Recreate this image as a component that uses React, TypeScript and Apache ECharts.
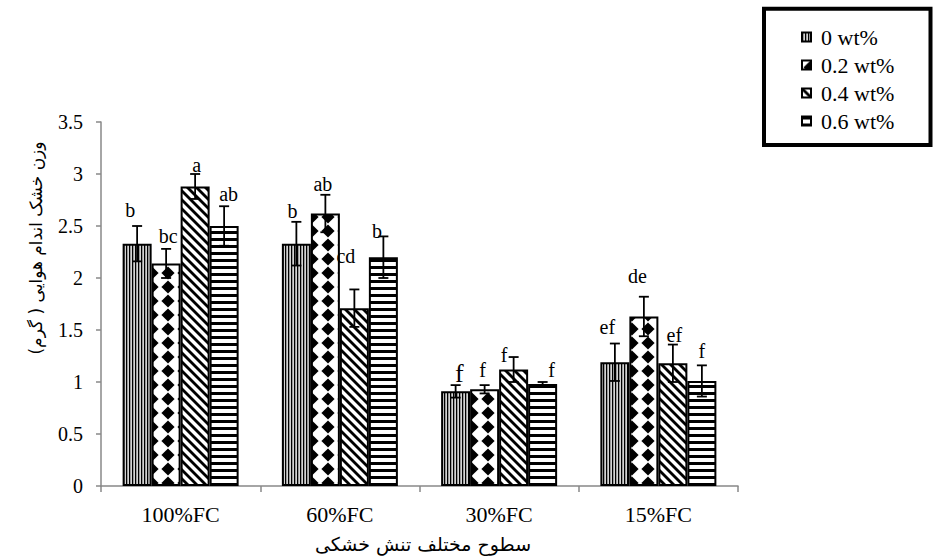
import React, { useEffect, useRef } from "react";
import * as echarts from "echarts";

const categories = ["100%FC", "60%FC", "30%FC", "15%FC"];
const seriesNames = ["0 wt%", "0.2 wt%", "0.4 wt%", "0.6 wt%"];
const yTicks = [0, 3.5, 0.5]; // min, max, interval

const values0 = [2.33, 2.33, 0.91, 1.19];
const values1 = [2.14, 2.62, 0.93, 1.63];
const values2 = [2.88, 1.71, 1.12, 1.18];
const values3 = [2.5, 2.2, 0.98, 1.01];

const errors0 = [0.17, 0.21, 0.06, 0.18];
const errors1 = [0.14, 0.18, 0.04, 0.19];
const errors2 = [0.12, 0.18, 0.12, 0.18];
const errors3 = [0.19, 0.2, 0.02, 0.15];

const letters0 = ["b", "b", "f", "ef"];
const letters1 = ["bc", "ab", "f", "de"];
const letters2 = ["a", "cd", "f", "ef"];
const letters3 = ["ab", "b", "f", "f"];

// label placement relative to top of error bar (pixels)
const labelDx0 = [-7, -4, 3.7, -7.5];
const labelDy0 = [-16, -10.7, -12, -16.4];
const labelDx1 = [2, -2.5, -2, -6.5];
const labelDy1 = [-13, -11, -15, -20.4];
const labelDx2 = [1.5, -8.5, -9.5, 1.5];
const labelDy2 = [-9.3, -33, -1.7, -10];
const labelDx3 = [4.5, -6.5, 9, 0];
const labelDy3 = [-12.7, -5.7, -12, -14.7];

const yAxisTitle = "وزن خشک اندام هوایی ( گرم)";
const xAxisTitle = "سطوح مختلف تنش خشکی";

const BAR_W = 29;
const SERIF = "'Liberation Serif', 'Times New Roman', serif";
const PERSIAN = "'DejaVu Sans', sans-serif";

function makePattern(w: number, h: number, draw: (ctx: CanvasRenderingContext2D) => void) {
  const c = document.createElement("canvas");
  c.width = w;
  c.height = h;
  const ctx = c.getContext("2d")!;
  ctx.fillStyle = "#ffffff";
  ctx.fillRect(0, 0, w, h);
  draw(ctx);
  return { image: c.toDataURL(), repeat: "repeat", imageWidth: w, imageHeight: h };
}

export default function App() {
  const ref = useRef<HTMLDivElement>(null);
  useEffect(() => {
    if (!ref.current) return;
    const chart = echarts.init(ref.current, null, { renderer: "svg" });

    const pVertical = makePattern(3, 3, (ctx) => {
      ctx.fillStyle = "#000";
      ctx.fillRect(0, 0, 1, 3);
      ctx.fillStyle = "#9a9a9a";
      ctx.fillRect(1, 0, 1, 3);
      ctx.fillStyle = "#d4d4d4";
      ctx.fillRect(2, 0, 1, 3);
    });
    const pDiamond = makePattern(16, 14, (ctx) => {
      ctx.fillStyle = "#000";
      ctx.beginPath();
      ctx.moveTo(8, 0.6);
      ctx.lineTo(14.6, 7);
      ctx.lineTo(8, 13.4);
      ctx.lineTo(1.4, 7);
      ctx.closePath();
      ctx.fill();
    });
    const pDiagonal = makePattern(9, 9, (ctx) => {
      ctx.strokeStyle = "#000";
      ctx.lineWidth = 2.8;
      for (const o of [-9, 0, 9]) {
        ctx.beginPath();
        ctx.moveTo(o - 2, -2);
        ctx.lineTo(o + 11, 11);
        ctx.stroke();
      }
    });
    const pHorizontal = makePattern(4, 7, (ctx) => {
      ctx.fillStyle = "#000";
      ctx.fillRect(0, 0, 4, 3);
    });
    const patterns = [pVertical, pDiamond, pDiagonal, pHorizontal];

    const allValues = [values0, values1, values2, values3];
    const allErrors = [errors0, errors1, errors2, errors3];
    const allLetters = [letters0, letters1, letters2, letters3];
    const allDx = [labelDx0, labelDx1, labelDx2, labelDx3];
    const allDy = [labelDy0, labelDy1, labelDy2, labelDy3];

    const barSeries = seriesNames.map((name, s) => ({
      type: "bar",
      name,
      data: allValues[s],
      barWidth: BAR_W,
      barGap: "0%",
      itemStyle: { color: patterns[s], borderColor: "#000", borderWidth: 2 },
      z: 2,
    }));

    const errSeries = seriesNames.map((name, s) => ({
      type: "custom",
      name: name + "-err",
      data: allValues[s].map((v, i) => [i, v, allErrors[s][i]]),
      z: 5,
      clip: false,
      silent: true,
      renderItem: (params: any, api: any) => {
        const ci = api.value(0);
        const v = api.value(1);
        const e = api.value(2);
        const top = api.coord([ci, v + e]);
        const bot = api.coord([ci, v - e]);
        const cx = top[0] + (s - 1.5) * BAR_W;
        const yT = top[1];
        const yB = bot[1];
        const idx = params.dataIndex;
        const big = s === 0 && idx === 2;
        const ls = { stroke: "#000", lineWidth: 1.8 };
        return {
          type: "group",
          children: [
            { type: "line", shape: { x1: cx, y1: yT, x2: cx, y2: yB }, style: ls },
            { type: "line", shape: { x1: cx - 5, y1: yT, x2: cx + 5, y2: yT }, style: ls },
            { type: "line", shape: { x1: cx - 5, y1: yB, x2: cx + 5, y2: yB }, style: ls },
            {
              type: "text",
              x: cx + allDx[s][idx],
              y: yT + allDy[s][idx],
              style: {
                text: allLetters[s][idx],
                fill: "#000",
                fontFamily: SERIF,
                fontSize: big ? 26 : 20,
                align: "center",
                verticalAlign: "middle",
              },
            },
          ],
        };
      },
    }));

    chart.setOption({
      animation: false,
      backgroundColor: "#fff",
      grid: { left: 101, right: 195, top: 122, bottom: 73 },
      legend: {
        data: seriesNames,
        orient: "vertical",
        left: 801,
        top: 26,
        padding: 0,
        itemWidth: 9,
        itemHeight: 9,
        itemGap: 6,
        icon: "rect",
        textStyle: { fontFamily: SERIF, fontSize: 22, lineHeight: 22, color: "#000", padding: [0, 0, 0, 5] },
      },
      xAxis: {
        type: "category",
        data: categories,
        axisLine: { lineStyle: { color: "#888", width: 1.5 } },
        axisTick: { show: true, length: 6, lineStyle: { color: "#888", width: 1.5 } },
        axisLabel: { color: "#000", fontFamily: SERIF, fontSize: 22, margin: 17 },
      },
      yAxis: {
        type: "value",
        min: yTicks[0],
        max: yTicks[1],
        interval: yTicks[2],
        axisLine: { show: true, lineStyle: { color: "#888", width: 1.5 } },
        axisTick: { show: true, length: 5, lineStyle: { color: "#888", width: 1.5 } },
        splitLine: { show: false },
        axisLabel: { color: "#000", fontFamily: SERIF, fontSize: 20, margin: 18 },
      },
      graphic: [
        {
          type: "rect",
          shape: { x: 764, y: 8.7, width: 166.5, height: 136.3 },
          style: { fill: "none", stroke: "#000", lineWidth: 4 },
          z: 10,
        },
        {
          type: "text",
          x: 36,
          y: 248,
          rotation: Math.PI / 2,
          style: {
            text: yAxisTitle,
            fill: "#000",
            fontFamily: PERSIAN,
            fontSize: 17,
            align: "center",
            verticalAlign: "middle",
          },
        },
        {
          type: "text",
          x: 423,
          y: 544,
          style: {
            text: xAxisTitle,
            fill: "#000",
            fontFamily: PERSIAN,
            fontSize: 19,
            align: "center",
            verticalAlign: "middle",
          },
        },
      ],
      series: [...barSeries, ...errSeries],
    });

    return () => chart.dispose();
  }, []);

  return (
    <div
      ref={ref}
      style={{ position: "fixed", left: 0, top: 0, width: 933, height: 559, background: "#fff" }}
    />
  );
}
